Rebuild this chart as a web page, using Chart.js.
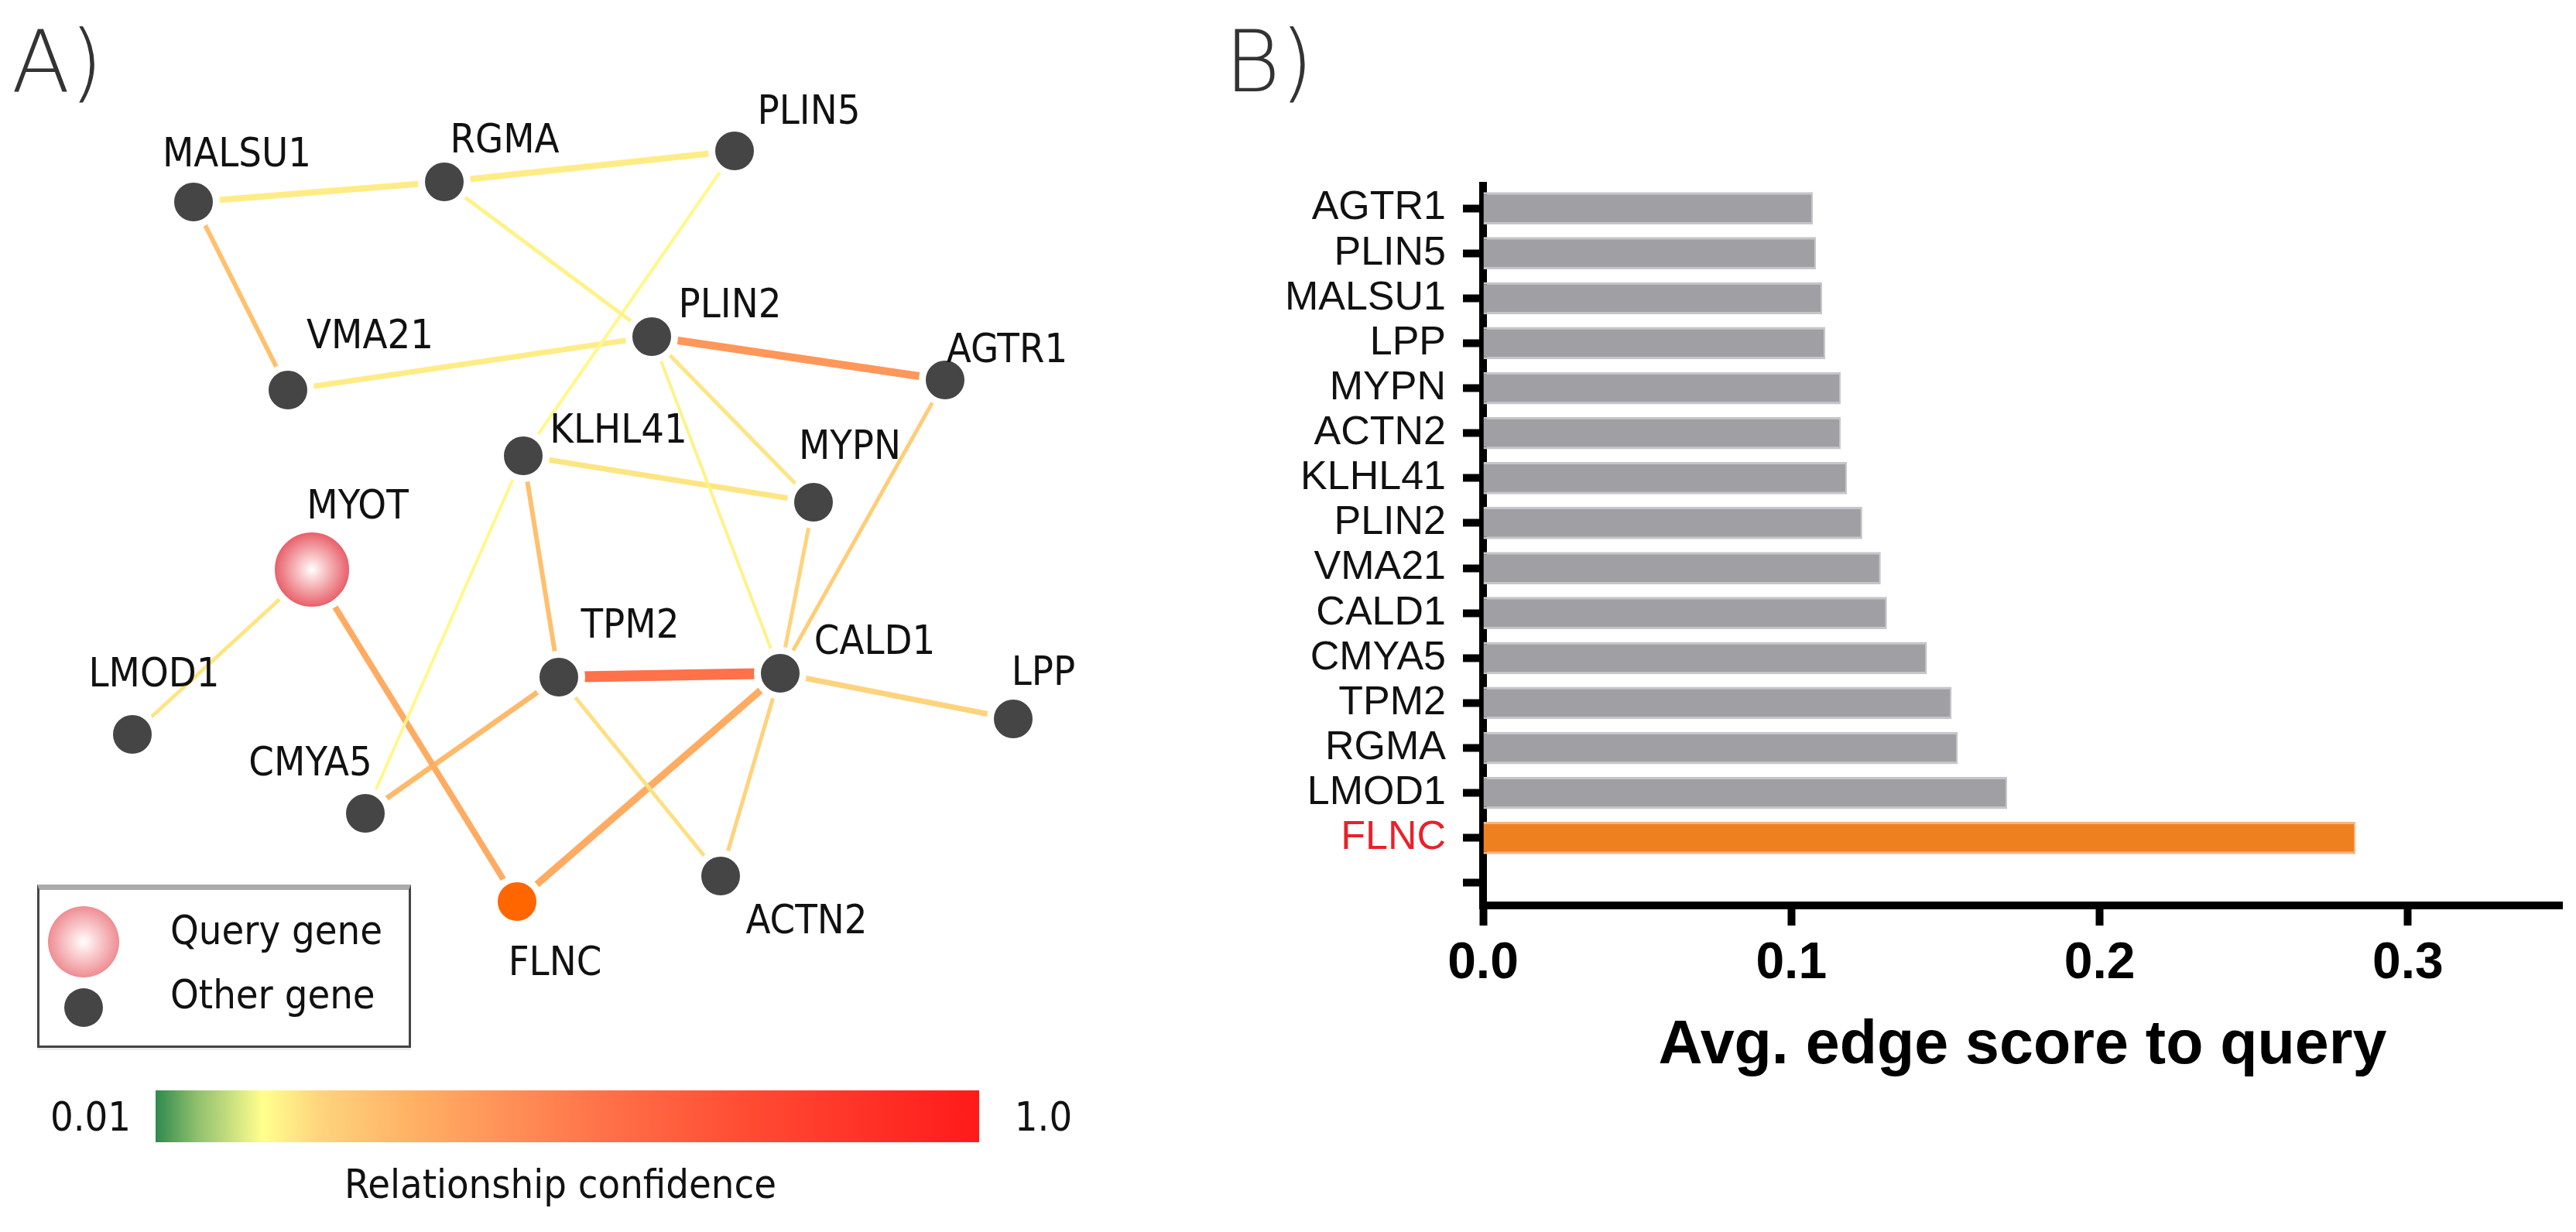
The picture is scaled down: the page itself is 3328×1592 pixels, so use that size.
<!DOCTYPE html>
<html>
<head>
<meta charset="utf-8">
<script src="https://cdn.jsdelivr.net/npm/chart.js@4.4.1/dist/chart.umd.min.js"></script>
<style>
  html, body { margin: 0; padding: 0; background: #fff; }
  #wrap { position: relative; width: 3328px; height: 1592px; overflow: hidden; background: #fff; }
  #netBox { position: absolute; left: 0; top: 0; width: 1580px; height: 1592px; }
  #barBox { position: absolute; left: 1580px; top: 0; width: 1748px; height: 1592px; }
  .t { position: absolute; white-space: nowrap; line-height: 1; }
  .nf { font-family: 'DejaVu Sans Condensed', 'DejaVu Sans', sans-serif; font-size: 52px; color: #111; }
  .panel { font-family: 'DejaVu Sans', 'Open Sans', sans-serif; font-weight: 200; font-size: 110px; color: #333; }
  #legendBox { position: absolute; left: 48px; top: 1143px; width: 477px; height: 201px;
               border: 3px solid #444; border-top: 7px solid #ababab; background: #fff;
               box-shadow: 0 3px 0 #ececec; }
  .dot { position: absolute; border-radius: 50%; transform: translate(-50%, -50%); }
  #cbar { position: absolute; left: 201px; top: 1409px; width: 1064px; height: 67px; }
</style>
</head>
<body>
<div id="wrap">
  <div id="netBox"><canvas id="net"></canvas></div>
  <div id="barBox"><canvas id="bar"></canvas></div>

  <div class="t panel" style="left:15px; top:25px;">A)</div>
  <div class="t panel" style="left:1582px; top:25px;">B)</div>

  <div id="legendBox"></div>
  <div class="dot" id="legQuery" style="left:108px; top:1217px; width:92px; height:92px;"></div>
  <div class="dot" style="left:108px; top:1302px; width:50px; height:50px; background:#454545;"></div>
  <div class="t nf" style="left:220px; top:1202px; transform:translateY(-50%);">Query gene</div>
  <div class="t nf" style="left:220px; top:1285px; transform:translateY(-50%);">Other gene</div>

  <div id="cbar"></div>
  <div class="t nf" style="left:117px; top:1443px; transform:translate(-50%,-50%);">0.01</div>
  <div class="t nf" style="left:1348px; top:1443px; transform:translate(-50%,-50%);">1.0</div>
  <div class="t nf" style="left:724px; top:1530px; transform:translate(-50%,-50%);">Relationship confidence</div>
</div>

<script>
// ---------------- Panel A data: gene network ----------------
const geneNames = ['MALSU1','RGMA','PLIN5','PLIN2','VMA21','AGTR1','KLHL41','MYPN','MYOT','LMOD1','TPM2','CALD1','LPP','CMYA5','FLNC','ACTN2'];
// layout coordinates of the network (layout units)
const geneX = [250, 574, 949, 842, 372, 1221, 676, 1051, 403, 171, 722, 1008, 1309, 472, 668, 931];
const geneY = [261, 235, 195, 435, 504, 491, 589, 649, 736, 949, 875, 870, 929, 1051, 1165, 1132];
const geneRole = ['other','other','other','other','other','other','other','other','query','other','other','other','other','other','top','other'];

const edgeFrom = ['MALSU1','RGMA','MALSU1','RGMA','PLIN5','VMA21','PLIN2','PLIN2','PLIN2','KLHL41','KLHL41','KLHL41','AGTR1','MYPN','MYOT','MYOT','TPM2','TPM2','TPM2','CALD1','CALD1','CALD1'];
const edgeTo   = ['RGMA','PLIN5','VMA21','PLIN2','KLHL41','PLIN2','AGTR1','MYPN','CALD1','MYPN','TPM2','CMYA5','CALD1','CALD1','LMOD1','FLNC','CALD1','CMYA5','ACTN2','FLNC','ACTN2','LPP'];
const edgeConfidence = [0.17, 0.17, 0.27, 0.16, 0.15, 0.17, 0.41, 0.18, 0.16, 0.18, 0.27, 0.15, 0.23, 0.21, 0.18, 0.34, 0.55, 0.29, 0.19, 0.34, 0.21, 0.21];
const edgeWeight     = [8, 8, 6, 5, 4, 7, 10, 5, 4, 7, 6, 4, 5, 5, 5, 8, 14, 7, 5, 9, 5, 7];

// colour scale of the confidence bar (position 0..1 along the bar)
const scaleStops = [
  [0.00, '#2f8a4e'], [0.05, '#8fbf6e'], [0.13, '#ffff8e'], [0.20, '#fed47c'],
  [0.30, '#ffb466'], [0.42, '#ff9258'], [0.55, '#ff7048'], [0.70, '#ff4f34'],
  [0.85, '#ff3428'], [1.00, '#ff1a1a']
];
const confMin = 0.01, confMax = 1.0;

// ---------------- Panel B data: bar chart ----------------
const barGenes  = ['AGTR1','PLIN5','MALSU1','LPP','MYPN','ACTN2','KLHL41','PLIN2','VMA21','CALD1','CMYA5','TPM2','RGMA','LMOD1','FLNC',''];
const barScores = [0.107, 0.108, 0.110, 0.111, 0.116, 0.116, 0.118, 0.123, 0.129, 0.131, 0.144, 0.152, 0.154, 0.170, 0.283, null];
const xTickValues = [0, 0.1, 0.2, 0.3];
const xMax = 0.35;
const highlightGene = 'FLNC';

// ---------------- helpers ----------------
function hexToRgb(h) { const n = parseInt(h.slice(1), 16); return [(n >> 16) & 255, (n >> 8) & 255, n & 255]; }
function colorFor(conf) {
  const t = Math.max(0, Math.min(1, (conf - confMin) / (confMax - confMin)));
  for (let i = 0; i < scaleStops.length - 1; i++) {
    const [t0, c0] = scaleStops[i], [t1, c1] = scaleStops[i + 1];
    if (t >= t0 && t <= t1) {
      const f = (t - t0) / (t1 - t0), a = hexToRgb(c0), b = hexToRgb(c1);
      return 'rgb(' + a.map((v, k) => Math.round(v + (b[k] - v) * f)).join(',') + ')';
    }
  }
  return scaleStops[scaleStops.length - 1][1];
}

document.getElementById('cbar').style.background =
  'linear-gradient(to right,' + scaleStops.map(s => s[1] + ' ' + (s[0] * 100) + '%').join(',') + ')';
document.getElementById('legQuery').style.background =
  'radial-gradient(circle at 50% 50%, #ffffff 0%, #fbd5d7 25%, #f19ea3 60%, #e8606a 100%)';

// label offsets relative to each node (style)
const labelOffsets = {
  MALSU1: [56, -60], RGMA: [78, -52], PLIN5: [96, -49], PLIN2: [101, -39], VMA21: [106, -68],
  AGTR1: [80, -37], KLHL41: [123, -31], MYPN: [47, -70], MYOT: [59, -80], LMOD1: [28, -76],
  TPM2: [92, -65], CALD1: [122, -39], LPP: [39, -58], CMYA5: [-71, -63], FLNC: [49, 81], ACTN2: [111, 60]
};
const NODE_DARK = '#454545';
const NODE_TOP = '#ff6600';
const netFont = "52px 'DejaVu Sans Condensed', 'DejaVu Sans', sans-serif";

// ---------------- Panel A chart ----------------
const idx = name => geneNames.indexOf(name);
const edgeDatasets = edgeFrom.map((f, i) => {
  const a = idx(f), b = idx(edgeTo[i]);
  return {
    type: 'line',
    data: [{ x: geneX[a], y: geneY[a] }, { x: geneX[b], y: geneY[b] }],
    borderColor: colorFor(edgeConfidence[i]),
    borderWidth: edgeWeight[i],
    borderCapStyle: 'butt',
    pointRadius: 0,
    tension: 0,
    fill: false,
    order: 1
  };
});

const nodeDataset = {
  type: 'scatter',
  data: geneNames.map((n, i) => ({ x: geneX[i], y: geneY[i] })),
  pointRadius: geneRole.map(r => r === 'query' ? 52.5 : 29.5),
  pointHoverRadius: geneRole.map(r => r === 'query' ? 52.5 : 29.5),
  pointBorderWidth: 9,
  pointBorderColor: '#ffffff',
  pointBackgroundColor: (ctx) => {
    const role = geneRole[ctx.dataIndex];
    if (role === 'top') return NODE_TOP;
    if (role !== 'query') return NODE_DARK;
    const ch = ctx.chart;
    if (!ch.chartArea || !ch.scales.x) return '#f19ea3';
    const px = ch.scales.x.getPixelForValue(geneX[ctx.dataIndex]);
    const py = ch.scales.y.getPixelForValue(geneY[ctx.dataIndex]);
    const g = ch.ctx.createRadialGradient(px, py, 0, px, py, 48);
    g.addColorStop(0, '#ffffff');
    g.addColorStop(0.25, '#fbd5d7');
    g.addColorStop(0.6, '#f19ea3');
    g.addColorStop(1, '#e8606a');
    return g;
  },
  order: 0
};

const nodeLabels = {
  id: 'nodeLabels',
  afterDatasetsDraw(chart) {
    const c = chart.ctx;
    c.save();
    c.font = netFont;
    c.fillStyle = '#111';
    c.textAlign = 'center';
    c.textBaseline = 'middle';
    geneNames.forEach((n, i) => {
      const px = chart.scales.x.getPixelForValue(geneX[i]);
      const py = chart.scales.y.getPixelForValue(geneY[i]);
      const o = labelOffsets[n];
      c.fillText(n, px + o[0], py + o[1]);
    });
    c.restore();
  }
};

new Chart(document.getElementById('net'), {
  data: { datasets: [nodeDataset, ...edgeDatasets] },
  options: {
    responsive: true,
    maintainAspectRatio: false,
    animation: false,
    events: [],
    layout: { padding: 0, autoPadding: false },
    plugins: { legend: { display: false }, tooltip: { enabled: false } },
    scales: {
      x: { type: 'linear', min: 0, max: 1580, display: false },
      y: { type: 'linear', min: 0, max: 1592, reverse: true, display: false }
    }
  },
  plugins: [nodeLabels]
});

// ---------------- Panel B chart ----------------
const GRAY = '#a09fa4', GRAY_EDGE = '#c6c5c9';
const ORANGE = '#ee801f', ORANGE_EDGE = '#f6b585';

new Chart(document.getElementById('bar'), {
  type: 'bar',
  data: {
    labels: barGenes,
    datasets: [{
      data: barScores,
      backgroundColor: barGenes.map(g => g === highlightGene ? ORANGE : GRAY),
      borderColor: barGenes.map(g => g === highlightGene ? ORANGE_EDGE : GRAY_EDGE),
      borderWidth: { top: 3, bottom: 3, right: 2, left: 0 },
      borderSkipped: false,
      categoryPercentage: 1.0,
      barPercentage: 0.72
    }]
  },
  options: {
    indexAxis: 'y',
    responsive: true,
    maintainAspectRatio: false,
    animation: false,
    events: [],
    layout: { padding: { top: 240, right: 18, bottom: 0, left: 0 }, autoPadding: false },
    plugins: { legend: { display: false }, tooltip: { enabled: false } },
    scales: {
      x: {
        type: 'linear',
        min: 0,
        max: xMax,
        afterBuildTicks: (scale) => { scale.ticks = xTickValues.map(v => ({ value: v })); },
        afterFit: (scale) => { scale.height = 422; },
        ticks: {
          autoSkip: false,
          maxRotation: 0,
          padding: 10,
          color: '#000',
          font: { family: "'Liberation Sans', Arial, sans-serif", size: 66, weight: 'bold' },
          callback: (v) => Number(v).toFixed(1)
        },
        grid: { drawOnChartArea: false, drawTicks: true, tickLength: 26, tickWidth: 10, tickColor: '#000', color: '#000' },
        border: { display: true, width: 10, color: '#000' },
        title: {
          display: true,
          text: 'Avg. edge score to query',
          color: '#000',
          font: { family: "'Liberation Sans', Arial, sans-serif", size: 79, weight: 'bold' },
          padding: { top: 0, bottom: 192 }
        }
      },
      y: {
        type: 'category',
        offset: true,
        afterFit: (scale) => { scale.width = 336; },
        ticks: {
          autoSkip: false,
          padding: 22,
          color: (ctx) => (ctx.tick && ctx.tick.label === highlightGene) ? '#e8212b' : '#111',
          font: { family: "'Liberation Sans', Arial, sans-serif", size: 52 }
        },
        grid: { offset: false, drawOnChartArea: false, drawTicks: true, tickLength: 26, tickWidth: 10, tickColor: '#000', color: '#000' },
        border: { display: true, width: 10, color: '#000' }
      }
    }
  }
});
</script>
</body>
</html>
